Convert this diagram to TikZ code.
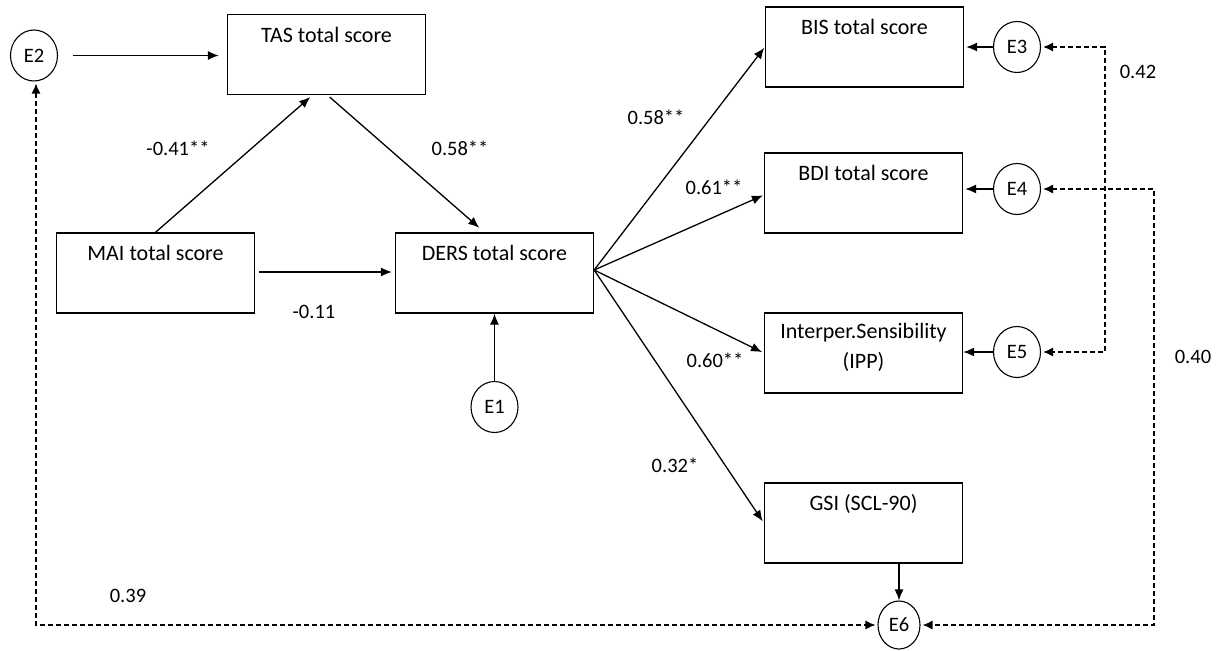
\documentclass[tikz,border=0pt]{standalone}
\usepackage{fontspec}
\setmainfont{Carlito}
\usetikzlibrary{arrows.meta,shapes.geometric}
\begin{document}
\begin{tikzpicture}[x=1pt,y=-1pt,
  box/.style={draw,line width=1.3pt,rectangle,minimum width=198pt,minimum height=80pt,inner sep=0pt},
  boxtext/.style={anchor=north,inner sep=0pt,align=center,font=\fontsize{22}{30}\selectfont},
  err/.style={draw,line width=1.1pt,ellipse,minimum width=47pt,minimum height=51pt,inner sep=0pt,font=\fontsize{20.5}{24}\selectfont},
  num/.style={inner sep=0pt,font=\fontsize{20.5}{24}\selectfont},
  arr/.style={line width=1.3pt,-{Latex[length=11pt,width=9pt]}},
  corr/.style={line width=1.2pt,dash pattern=on 5pt off 3pt,{Latex[length=10pt,width=9pt]}-{Latex[length=10pt,width=9pt]}}
]
\useasboundingbox (0,0) rectangle (1222,650);
% boxes
\node[box] (tas) at (326.5,54.5) {};
\node[box] (mai) at (155.5,273) {};
\node[box] (ders) at (494.5,273) {};
\node[box] (bis) at (864.5,47) {};
\node[box] (bdi) at (863.5,193) {};
\node[box] (ipp) at (863.5,353) {};
\node[box] (gsi) at (863.5,523) {};
\node[boxtext] (tast) at ([yshift=-13pt]tas.north) {TAS total score};
\node[boxtext] (mait) at ([yshift=-13pt]mai.north) {MAI total score};
\node[boxtext] (derst) at ([yshift=-13pt]ders.north) {DERS total score};
\node[boxtext] (bist) at ([yshift=-13pt]bis.north) {BIS total score};
\node[boxtext] (bdit) at ([yshift=-13pt]bdi.north) {BDI total score};
\node[boxtext] (ippt) at ([yshift=-11pt]ipp.north) {Interper.Sensibility\\(IPP)};
\node[boxtext] (gsit) at ([yshift=-12pt]gsi.north) {GSI (SCL-90)};
% error terms
\node[err] (e2) at (34,55.5) {E2};
\node[err] (e1) at (494.5,407) {E1};
\node[err] (e3) at (1017,47) {E3};
\node[err] (e4) at (1017,189) {E4};
\node[err] (e5) at (1017,352) {E5};
\node[err,minimum width=42pt,minimum height=48pt] (e6) at (899,625) {E6};
% paths
\draw[arr,shorten <=15pt,shorten >=8pt] (e2.east) -- (tas.west |- e2.east);
\draw[arr,shorten >=3pt] (mai.north) -- ([xshift=-14pt]tas.south);
\draw[arr,shorten <=3pt,shorten >=7pt] ([xshift=1pt]tas.south) -- ([xshift=-10pt]ders.north);
\draw[arr,shorten <=4pt,shorten >=3pt] ([yshift=1pt]mai.east) -- ([yshift=1pt]ders.west);
\draw[arr] (e1.north) -- (ders.south);
\draw[arr,shorten >=1pt] ([yshift=3pt]ders.east) -- (bis.west);
\draw[arr,shorten >=1pt] ([yshift=3pt]ders.east) -- ([yshift=-2pt]bdi.west);
\draw[arr,shorten >=2pt] ([yshift=3pt]ders.east) -- (ipp.west);
\draw[arr,shorten >=2pt] ([yshift=3pt]ders.east) -- (gsi.west);
\draw[arr,shorten >=2pt] (e3.west) -- (bis.east |- e3.west);
\draw[arr,shorten >=2pt] (e4.west) -- (bdi.east |- e4.west);
\draw[arr] (e5.west) -- (ipp.east |- e5.west);
\draw[arr] (e6 |- gsi.south) -- (e6.north);
% correlations
\coordinate (cl) at (36,625);
\coordinate (r1) at (1105,0);
\coordinate (r2) at (1154,0);
\draw[corr,shorten <=2pt,shorten >=2pt] ([xshift=2pt]e2.south) -- (cl) -- (e6.west);
\draw[corr,shorten <=2pt,shorten >=2pt] (e3.east) -- (r1 |- e3.east) -- (r1 |- e5.east) -- (e5.east);
\draw[corr,shorten <=2pt,shorten >=2pt] (e4.east) -- (r2 |- e4.east) -- (r2 |- e6.east) -- (e6.east);
% coefficients
\node[num] (n1) at (178,148) {-0.41**};
\node[num] (n2) at (460,148) {0.58**};
\node[num] (n3) at (314,312) {-0.11};
\node[num] (n4) at (656,117) {0.58**};
\node[num] (n5) at (714,187) {0.61**};
\node[num] (n6) at (715,360) {0.60**};
\node[num] (n7) at (675,465) {0.32*};
\node[num] (n8) at (1138,72) {0.42};
\node[num] (n9) at (1193,357) {0.40};
\node[num] (n10) at (128,596) {0.39};
\end{tikzpicture}
\end{document}
